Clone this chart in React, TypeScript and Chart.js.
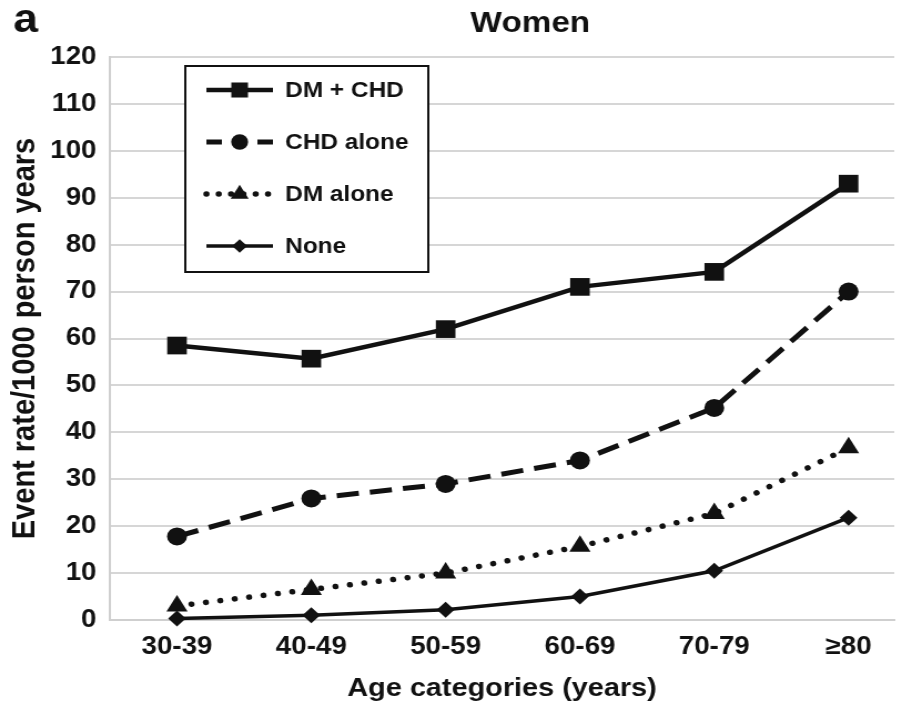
import React, { useEffect, useRef } from 'react';
import { Chart, registerables } from 'chart.js';
import { drawPoint } from 'chart.js/helpers';

Chart.register(...registerables);

const categories = ['30-39', '40-49', '50-59', '60-69', '70-79', '≥80'];
const dmChd = [58.5, 55.7, 62, 71, 74.2, 93];
const chdAlone = [17.8, 25.9, 29, 34, 45.2, 70];
const dmAlone = [3, 6.5, 10, 15.7, 22.7, 36.7];
const noneVals = [0.3, 1, 2.2, 5, 10.5, 21.8];
const yTicks = [0, 10, 20, 30, 40, 50, 60, 70, 80, 90, 100, 110, 120];

const FONT = '"Liberation Sans", Arial, sans-serif';
const INK = '#111111';
// the reference image is horizontally stretched; draw narrower and stretch via CSS
const DRAW_W = 822;
const DRAW_H = 708;

const toPts = (arr: number[]) => arr.map((v, i) => ({ x: i, y: v }));

const legendPlugin = {
  id: 'boxLegend',
  afterDraw(chart: any) {
    const ctx = chart.ctx;
    const ca = chart.chartArea;
    const left = ca.left + 68;
    const top = ca.top + 9;
    const w = 219;
    const h = 206;
    ctx.save();
    ctx.fillStyle = '#ffffff';
    ctx.fillRect(left, top, w, h);
    ctx.strokeStyle = INK;
    ctx.lineWidth = 2;
    ctx.strokeRect(left, top, w, h);
    chart.data.datasets.forEach((ds: any, i: number) => {
      const y = top + 24 + i * 52;
      const x0 = left + 19;
      const x1 = left + 79;
      ctx.save();
      ctx.strokeStyle = ds.borderColor;
      ctx.lineWidth = ds.borderWidth;
      ctx.lineCap = ds.borderCapStyle || 'butt';
      ctx.setLineDash(ds.legendDash || ds.borderDash || []);
      ctx.beginPath();
      ctx.moveTo(x0, y);
      ctx.lineTo(x1, y);
      ctx.stroke();
      ctx.restore();
      ctx.save();
      ctx.fillStyle = ds.pointBackgroundColor;
      ctx.strokeStyle = ds.pointBorderColor;
      drawPoint(ctx, { pointStyle: ds.pointStyle, radius: ds.pointRadius * 0.85, rotation: 0, borderWidth: 0 }, (x0 + x1) / 2, y);
      ctx.restore();
      ctx.fillStyle = INK;
      ctx.font = `bold 22px ${FONT}`;
      ctx.textAlign = 'left';
      ctx.textBaseline = 'middle';
      ctx.fillText(ds.label, left + 90, y + 1);
    });
    ctx.restore();
  },
};

const textPlugin = {
  id: 'texts',
  afterDraw(chart: any) {
    const ctx = chart.ctx;
    ctx.save();
    ctx.fillStyle = INK;
    ctx.textBaseline = 'alphabetic';
    ctx.font = `bold 40px ${FONT}`;
    ctx.textAlign = 'left';
    ctx.fillText('a', 12, 32);
    ctx.font = `bold 30px ${FONT}`;
    ctx.textAlign = 'center';
    ctx.fillText('Women', 478, 32);
    ctx.restore();
  },
};

export default function App() {
  const ref = useRef<HTMLCanvasElement | null>(null);
  useEffect(() => {
    document.body.style.margin = '0';
    const common = {
      borderColor: INK,
      pointBackgroundColor: INK,
      pointBorderColor: INK,
      pointBorderWidth: 0,
      fill: false,
      tension: 0,
      clip: false as any,
    };
    const chart = new Chart(ref.current as HTMLCanvasElement, {
      type: 'line',
      data: {
        datasets: [
          { ...common, label: 'DM + CHD', data: toPts(dmChd), borderWidth: 4.5, pointStyle: 'rect', pointRadius: 12.5 },
          { ...common, label: 'CHD alone', data: toPts(chdAlone), borderWidth: 5, borderDash: [20, 10], legendDash: [14, 9], pointStyle: 'circle', pointRadius: 9 },
          { ...common, label: 'DM alone', data: toPts(dmAlone), borderWidth: 5.5, borderDash: [0.1, 13], legendDash: [0.1, 11], borderCapStyle: 'round', pointStyle: 'triangle', pointRadius: 11 },
          { ...common, label: 'None', data: toPts(noneVals), borderWidth: 3.5, pointStyle: 'rectRot', pointRadius: 8 },
        ] as any,
      },
      plugins: [legendPlugin, textPlugin],
      options: {
        animation: false,
        responsive: false,
        maintainAspectRatio: false,
        devicePixelRatio: 1,
        layout: { padding: { top: 57, right: 16, left: 0, bottom: 0 } },
        plugins: { legend: { display: false }, tooltip: { enabled: false }, title: { display: false } },
        scales: {
          x: {
            type: 'linear',
            min: -0.5,
            max: 5.34,
            afterBuildTicks: (scale: any) => {
              scale.ticks = categories.map((_, i) => ({ value: i }));
            },
            afterFit: (scale: any) => {
              scale.height = 88;
            },
            ticks: {
              callback: (v: any) => categories[Math.round(v)] ?? '',
              color: INK,
              font: { family: FONT, size: 25, weight: 'bold' },
              padding: 12,
              maxRotation: 0,
              autoSkip: false,
            },
            grid: { display: false, drawTicks: false },
            border: { display: true, color: '#cfcfcf', width: 2 },
            title: {
              display: true,
              text: 'Age categories (years)',
              color: INK,
              font: { family: FONT, size: 26, weight: 'bold' },
              padding: { top: 4, bottom: 4 },
            },
          },
          y: {
            min: 0,
            max: 120,
            afterBuildTicks: (scale: any) => {
              scale.ticks = yTicks.map((v) => ({ value: v }));
            },
            afterFit: (scale: any) => {
              scale.width = 99;
            },
            ticks: {
              color: INK,
              font: { family: FONT, size: 25, weight: 'bold' },
              padding: 12,
            },
            grid: { color: '#d6d6d6', lineWidth: 2, drawTicks: false },
            border: { display: true, color: '#cfcfcf', width: 2 },
            title: {
              display: true,
              text: 'Event rate/1000 person years',
              color: INK,
              font: { family: FONT, size: 29, weight: 'bold' },
              padding: { top: 6, bottom: 4 },
            },
          },
        },
      } as any,
    });
    return () => chart.destroy();
  }, []);
  return (
    <div style={{ width: 912, height: 708 }}>
      <canvas
        ref={ref}
        width={DRAW_W}
        height={DRAW_H}
        style={{ display: 'block', width: '912px', height: '708px' }}
      />
    </div>
  );
}
